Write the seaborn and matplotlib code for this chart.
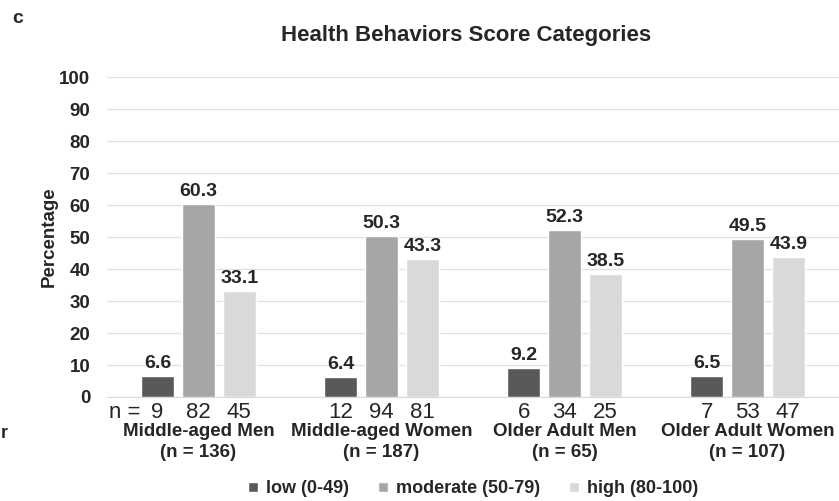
import pandas as pd
import numpy as np
import matplotlib.pyplot as plt
import seaborn as sns

# 数据
groups = ['Middle-aged Men', 'Middle-aged Women', 'Older Adult Men', 'Older Adult Women']
group_n = [136, 187, 65, 107]
levels = ['low (0-49)', 'moderate (50-79)', 'high (80-100)']
low_pct = [6.6, 6.4, 9.2, 6.5]
moderate_pct = [60.3, 50.3, 52.3, 49.5]
high_pct = [33.1, 43.3, 38.5, 43.9]
low_n = [9, 12, 6, 7]
moderate_n = [82, 94, 34, 53]
high_n = [45, 81, 25, 47]

sns.set_style('white')
plt.rcParams['font.family'] = ['Liberation Sans', 'DejaVu Sans']

df = pd.DataFrame({
    'group': groups * 3,
    'level': [levels[0]] * 4 + [levels[1]] * 4 + [levels[2]] * 4,
    'pct': low_pct + moderate_pct + high_pct,
    'n': low_n + moderate_n + high_n,
})

fig = plt.figure(figsize=(8.39, 5.01), dpi=100)
ax = fig.add_axes([0.1275, 0.2076, 0.8725, 0.6384])

palette = ['#595959', '#a6a6a6', '#d9d9d9']
sns.barplot(data=df, x='group', y='pct', hue='level', palette=palette,
            width=0.67, gap=0.2, saturation=1, ax=ax, legend=True)

ax.set_ylim(0, 100)
ax.set_xlim(-0.5, 3.5)
ax.set_yticks(np.arange(0, 101, 10))
ax.yaxis.grid(True, color='#e0e0e0', linewidth=0.9)
ax.set_axisbelow(True)
for s in ['top', 'right', 'left']:
    ax.spines[s].set_visible(False)
ax.spines['bottom'].set_color('#d9d9d9')
ax.tick_params(axis='y', length=0, labelsize=13.5, pad=12)
for lbl in ax.get_yticklabels():
    lbl.set_fontweight('bold')
ax.set_xlabel('')
ax.set_ylabel('Percentage', fontsize=13.5, fontweight='bold', labelpad=1)
ax.set_xticks(range(4))
ax.set_xticklabels([f'{g}\n(n = {n})' for g, n in zip(groups, group_n)],
                   fontsize=13.5, fontweight='bold', linespacing=1.25)
ax.tick_params(axis='x', length=0, pad=19)

ns = [low_n, moderate_n, high_n]
for i, cont in enumerate(ax.containers):
    for j, bar in enumerate(cont):
        cx = bar.get_x() + bar.get_width() / 2
        h = bar.get_height()
        ax.text(cx, h + 1.2, f'{h:.1f}', ha='center', va='bottom',
                fontsize=14, fontweight='bold')
        ax.text(cx, -1.5, str(ns[i][j]), ha='center', va='top', fontsize=16)
ax.text(-0.49, -1.5, 'n =', ha='left', va='top', fontsize=16)

ax.set_title('Health Behaviors Score Categories', fontsize=16, fontweight='bold',
             pad=26, x=0.49)

ax.legend(loc='upper center', bbox_to_anchor=(0.5, -0.21), ncol=3, frameon=False,
          prop={'weight': 'bold', 'size': 13}, handlelength=0.55, handleheight=0.55,
          handletextpad=0.45, columnspacing=1.6)

fig.text(0.015, 0.955, 'c', fontsize=14, fontweight='bold')
fig.text(0.001, 0.125, 'r', fontsize=13, fontweight='bold')

plt.savefig('out.png', dpi=100)
